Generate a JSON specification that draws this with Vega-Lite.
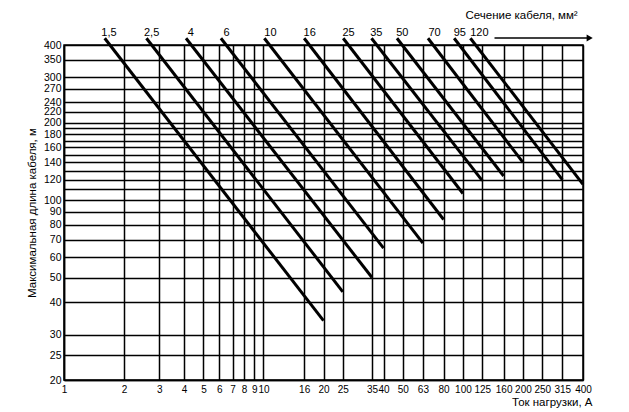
{
  "$schema": "https://vega.github.io/schema/vega-lite/v6.json",
  "width": 519,
  "height": 335,
  "autosize": {"type": "none"},
  "padding": {"left": 64, "top": 45, "right": 46, "bottom": 32},
  "background": "white",
  "config": {
    "font": "Liberation Sans",
    "view": {"stroke": "black", "strokeWidth": 1.5},
    "axis": {
      "labelFont": "Liberation Sans", "titleFont": "Liberation Sans",
      "labelColor": "black", "titleColor": "black",
      "labelFontSize": 10.5, "titleFontSize": 11.5,
      "titleFontWeight": "normal",
      "gridColor": "black", "gridOpacity": 1, "gridWidth": 1.5,
      "domainColor": "black", "domainWidth": 1.5,
      "ticks": false, "labelOverlap": false, "labelBound": false, "labelFlush": false
    }
  },
  "datasets": {
    "lines": [
      {"sec": "1,5", "I": 1.6, "L": 425}, {"sec": "1,5", "I": 20, "L": 34},
      {"sec": "2,5", "I": 2.59, "L": 425}, {"sec": "2,5", "I": 25, "L": 44},
      {"sec": "4", "I": 4.09, "L": 425}, {"sec": "4", "I": 35, "L": 50},
      {"sec": "6", "I": 6.12, "L": 425}, {"sec": "6", "I": 40, "L": 65},
      {"sec": "10", "I": 10.1, "L": 425}, {"sec": "10", "I": 63, "L": 68},
      {"sec": "16", "I": 16, "L": 425}, {"sec": "16", "I": 80, "L": 84},
      {"sec": "25", "I": 25.1, "L": 425}, {"sec": "25", "I": 100, "L": 106},
      {"sec": "35", "I": 34.8, "L": 425}, {"sec": "35", "I": 125, "L": 119},
      {"sec": "50", "I": 46.7, "L": 425}, {"sec": "50", "I": 160, "L": 124},
      {"sec": "70", "I": 66.8, "L": 425}, {"sec": "70", "I": 200, "L": 140},
      {"sec": "95", "I": 90.4, "L": 425}, {"sec": "95", "I": 315, "L": 120},
      {"sec": "120", "I": 109, "L": 425}, {"sec": "120", "I": 400, "L": 115}
    ],
    "labels": [
      {"sec": "1,5", "I": 1.68}, {"sec": "2,5", "I": 2.75}, {"sec": "4", "I": 4.32},
      {"sec": "6", "I": 6.53}, {"sec": "10", "I": 10.84}, {"sec": "16", "I": 17.06},
      {"sec": "25", "I": 26.7}, {"sec": "35", "I": 36.8}, {"sec": "50", "I": 49.7},
      {"sec": "70", "I": 72.1}, {"sec": "95", "I": 96.5}, {"sec": "120", "I": 121}
    ],
    "note": [{"text": "Сечение кабеля, мм²"}]
  },
  "layer": [
    {
      "data": {"name": "lines"},
      "mark": {"type": "line", "color": "black", "strokeWidth": 3, "clip": false},
      "encoding": {
        "x": {
          "field": "I", "type": "quantitative",
          "scale": {"type": "log", "domain": [1, 400], "nice": false},
          "axis": {
            "values": [1,2,3,4,5,6,7,8,9,10,16,20,25,35,40,50,63,80,100,125,160,200,250,315,400],
            "grid": true, "labelPadding": 4, "labelFontSize": 10,
            "title": "Ток нагрузки, А", "titleAnchor": "end", "titleAlign": "right",
            "titleX": 528, "titleY": 25, "titleBaseline": "alphabetic"
          }
        },
        "y": {
          "field": "L", "type": "quantitative",
          "scale": {"type": "log", "domain": [20, 400], "nice": false},
          "axis": {
            "values": [20,25,30,40,50,60,70,80,90,100,110,120,130,140,150,160,170,180,190,200,220,240,270,300,350,400],
            "labelExpr": "indexof([110,130,150,170,190], datum.value) >= 0 ? '' : datum.label",
            "grid": true, "labelPadding": 3, "titlePadding": 6,
            "title": "Максимальная длина кабеля, м"
          }
        },
        "detail": {"field": "sec"}
      }
    },
    {
      "data": {"name": "labels"},
      "mark": {"type": "text", "fontSize": 11, "color": "black", "baseline": "alphabetic", "yOffset": -9, "font": "Liberation Sans"},
      "encoding": {
        "x": {"field": "I", "type": "quantitative"},
        "y": {"datum": 400},
        "text": {"field": "sec"}
      }
    },
    {
      "data": {"name": "note"},
      "mark": {"type": "rule", "color": "black", "strokeWidth": 1.4, "yOffset": -7},
      "encoding": {
        "x": {"datum": 144},
        "x2": {"datum": 430},
        "y": {"datum": 400}
      }
    },
    {
      "data": {"name": "note"},
      "mark": {"type": "point", "shape": "triangle-right", "filled": true, "color": "black", "opacity": 1, "size": 50, "yOffset": -7},
      "encoding": {
        "x": {"datum": 432},
        "y": {"datum": 400}
      }
    },
    {
      "data": {"name": "note"},
      "mark": {"type": "text", "fontSize": 11.5, "color": "black", "align": "left", "baseline": "alphabetic", "yOffset": -26, "font": "Liberation Sans"},
      "encoding": {
        "x": {"datum": 103},
        "y": {"datum": 400},
        "text": {"field": "text"}
      }
    }
  ]
}
